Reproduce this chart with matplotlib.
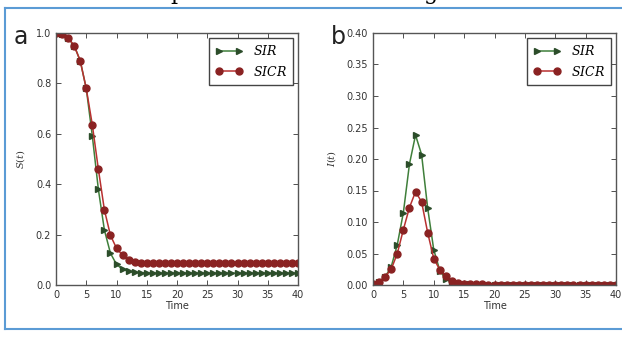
import numpy as np
import matplotlib
matplotlib.use("Agg")
import matplotlib.pyplot as plt

t = list(range(41))

s_sir = [1.0, 0.996, 0.98, 0.95, 0.89, 0.78, 0.592, 0.38, 0.218, 0.126, 0.082, 0.062,
         0.054, 0.05, 0.048, 0.048, 0.047, 0.047, 0.047, 0.047, 0.047, 0.047, 0.047,
         0.047, 0.047, 0.047, 0.047, 0.047, 0.047, 0.047, 0.047, 0.047, 0.047, 0.047,
         0.047, 0.047, 0.047, 0.047, 0.047, 0.047, 0.047]
s_sicr = [1.0, 0.996, 0.98, 0.95, 0.89, 0.78, 0.636, 0.46, 0.298, 0.197, 0.146, 0.118,
          0.099, 0.09, 0.087, 0.086, 0.086, 0.086, 0.086, 0.086, 0.086, 0.086, 0.086,
          0.086, 0.086, 0.086, 0.086, 0.086, 0.086, 0.086, 0.086, 0.086, 0.086, 0.086,
          0.086, 0.086, 0.086, 0.086, 0.086, 0.086, 0.086]
i_sir = [0.001, 0.005, 0.013, 0.029, 0.064, 0.115, 0.192, 0.238, 0.207, 0.122, 0.056,
         0.023, 0.009, 0.004, 0.002, 0.001, 0.001, 0.0, 0.0, 0.0, 0.0, 0.0, 0.0, 0.0,
         0.0, 0.0, 0.0, 0.0, 0.0, 0.0, 0.0, 0.0, 0.0, 0.0, 0.0, 0.0, 0.0, 0.0, 0.0, 0.0, 0.0]
i_sicr = [0.001, 0.005, 0.013, 0.025, 0.05, 0.088, 0.123, 0.148, 0.132, 0.083, 0.042,
          0.024, 0.014, 0.006, 0.003, 0.002, 0.001, 0.001, 0.001, 0.0, 0.0, 0.0, 0.0, 0.0,
          0.0, 0.0, 0.0, 0.0, 0.0, 0.0, 0.0, 0.0, 0.0, 0.0, 0.0, 0.0, 0.0, 0.0, 0.0, 0.0, 0.0]

plt.rcParams['mathtext.fontset'] = 'dejavuserif'
plt.rcParams['xtick.direction'] = 'in'
plt.rcParams['ytick.direction'] = 'in'

fig = plt.figure(figsize=(6.22, 3.38), dpi=100)

# blue frame around the figure
fig.add_artist(plt.Line2D([0.008, 1.0], [1 - 8/338, 1 - 8/338], color='#5b9bd5', lw=1.5))
fig.add_artist(plt.Line2D([0.008, 1.0], [1 - 329/338, 1 - 329/338], color='#5b9bd5', lw=1.5))
fig.add_artist(plt.Line2D([0.008, 0.008], [1 - 329/338, 1 - 8/338], color='#5b9bd5', lw=1.5))

# cut off caption above
fig.text(170/622, 1 + 1/338, "p", family='serif', fontsize=16, va='baseline')
fig.text(424/622, 1 + 1/338, "g", family='serif', fontsize=16, va='baseline')

ax1 = fig.add_axes([56/622, 53/338, 242/622, 252/338])
ax2 = fig.add_axes([373/622, 53/338, 243/622, 252/338])

green_line = '#3f7f3a'
green_mk = '#2c4d2a'
red_line = '#b83030'
red_mk = '#8a2222'

for ax, sir, sicr, ylab, ymax, yt, lab in [
        (ax1, s_sir, s_sicr, '$S(t)$', 1.0, np.arange(0, 1.01, 0.2), 'a'),
        (ax2, i_sir, i_sicr, '$I(t)$', 0.40, np.arange(0, 0.401, 0.05), 'b')]:
    ax.plot(t, sir, color=green_line, lw=1.1, marker='>', markersize=4.5,
            markerfacecolor=green_mk, markeredgecolor=green_mk, label='$SIR$')
    ax.plot(t, sicr, color=red_line, lw=1.1, marker='o', markersize=5,
            markerfacecolor=red_mk, markeredgecolor=red_mk, label='$SICR$')
    ax.set_xlim(0, 40)
    ax.set_ylim(0, ymax)
    ax.set_xticks(range(0, 41, 5))
    ax.set_yticks(yt)
    if ymax == 1.0:
        ax.set_yticklabels(['%.1f' % v for v in yt])
    else:
        ax.set_yticklabels(['%.2f' % v for v in yt])
    ax.tick_params(labelsize=7, colors='#333333', top=True, right=True, length=3.5, width=0.6)
    for sp in ax.spines.values():
        sp.set_color('#555555')
        sp.set_linewidth(1.0)
    ax.set_xlabel('Time', fontsize=7, color='#333333', labelpad=1)
    ax.set_ylabel(ylab, fontsize=7, color='#333333', labelpad=6)
    leg = ax.legend(loc='upper right', fontsize=9, handlelength=2.2, numpoints=2,
                    fancybox=False, borderpad=0.5, labelspacing=0.5,
                    borderaxespad=0.4, framealpha=1)
    leg.get_frame().set_edgecolor('#444444')
    leg.get_frame().set_linewidth(1.0)
    pos = ax.get_position()
    fig.text(pos.x0 - 42/622, pos.y1 - 4/338, lab, fontsize=17, color='#222222',
             va='center', ha='left')

fig.savefig('out.png', dpi=100)
